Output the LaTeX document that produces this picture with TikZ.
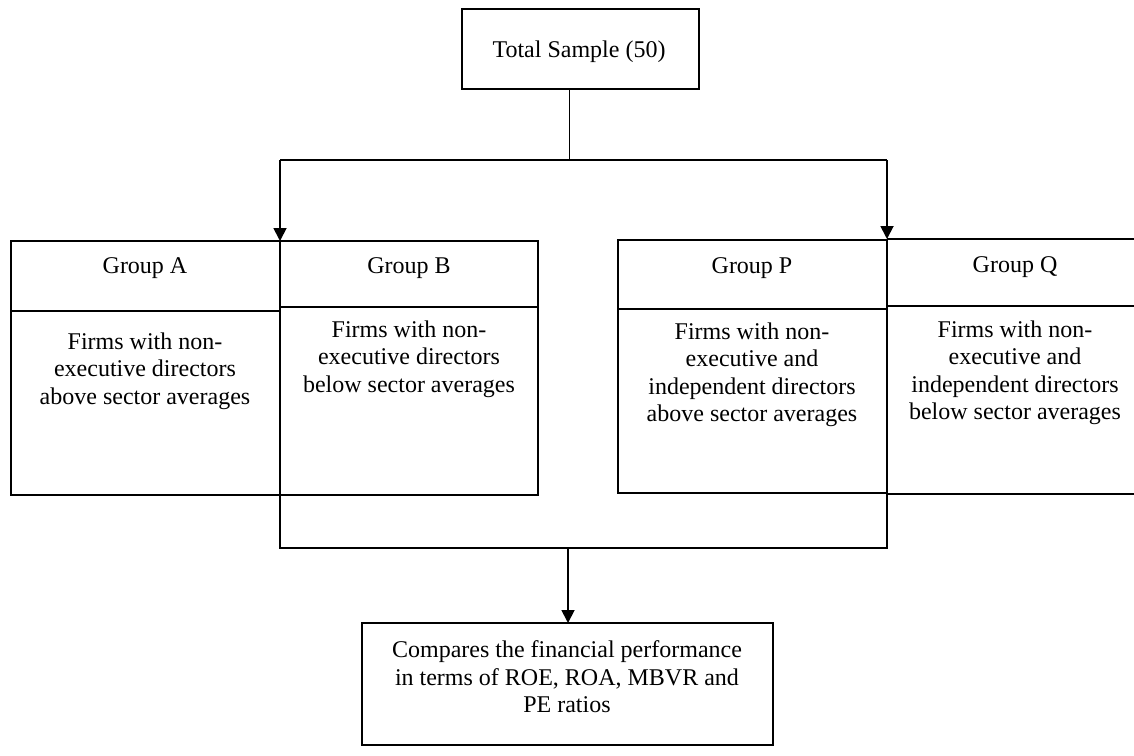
\documentclass[tikz,border=0pt]{standalone}
\usepackage{fontspec}
\setmainfont{Liberation Serif}
\usetikzlibrary{arrows.meta}
\begin{document}
\begin{tikzpicture}[x=1pt,y=-1pt,
  box/.style={draw=black,line width=1.3pt},
  txt/.style={align=center,font=\fontsize{24}{27.5}\selectfont,inner sep=0pt,anchor=center},
  conn/.style={line width=1.8pt},
  arr/.style={line width=1.8pt,-{Triangle[length=13pt,width=13pt]}}]
\useasboundingbox (0,0) rectangle (1134,755);
% Total sample
\draw[box] (462,9) rectangle (699,89);
\node[txt] (total) at (579,52) {Total Sample (50)};
\coordinate (tb) at (569,89);
\coordinate (tj) at (569,160);
\coordinate (jl) at (280,160);
\coordinate (jr) at (887,160);
\draw[line width=0.9pt] (tb) -- (tj);
\draw[conn] (jl) -- (jr);
\coordinate (atA) at (280,241);
\coordinate (atP) at (887,239);
\draw[arr] (jl) -- (atA);
\draw[arr] (jr) -- (atP);
% Group A
\draw[box] (11,241) rectangle (280,495);
\draw[box] (11,311) -- (280,311);
\node[txt] (gA) at (145,268) {Group A};
\node[txt] (bA) at (145,371) {Firms with non-\\executive directors\\above sector averages};
% Group B
\draw[box] (280,241) rectangle (538,495);
\draw[box] (280,307) -- (538,307);
\node[txt] (gB) at (409,268) {Group B};
\node[txt] (bB) at (409,359) {Firms with non-\\executive directors\\below sector averages};
% Group P
\draw[box] (618,240) rectangle (887,493);
\draw[box] (618,309) -- (887,309);
\node[txt] (gP) at (752,268) {Group P};
\node[txt] (bP) at (752,375) {Firms with non-\\executive and\\independent directors\\above sector averages};
% Group Q
\draw[box] (887,239) -- (1140,239);
\draw[box] (887,239) -- (887,494) -- (1140,494);
\draw[box] (887,306) -- (1140,306);
\node[txt] (gQ) at (1015,267) {Group Q};
\node[txt] (bQ) at (1015,373) {Firms with non-\\executive and\\independent directors\\below sector averages};
% bottom connector
\coordinate (lb) at (280,495);
\coordinate (lc) at (280,548);
\coordinate (rc) at (887,548);
\coordinate (rb) at (887,494);
\coordinate (mc) at (568,548);
\draw[conn] (lb) -- (lc) -- (rc) -- (rb);
\coordinate (atR) at (568,623);
\draw[arr] (mc) -- (atR);
% result
\draw[box] (362,623) rectangle (773,745);
\node[txt] (res) at (567,677) {Compares the financial performance\\in terms of ROE, ROA, MBVR and\\PE ratios};
\end{tikzpicture}
\end{document}
